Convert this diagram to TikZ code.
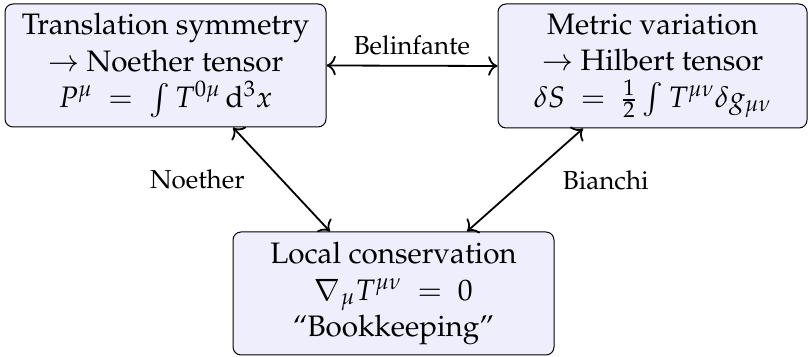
\documentclass[tikz,border=0pt]{standalone}
\usepackage[T1]{fontenc}
\usepackage{mathpazo}
\usetikzlibrary{arrows.meta}
\definecolor{boxfill}{RGB}{238,238,253}
\tikzset{
  concept/.style={draw=black, line width=0.5pt, fill=boxfill, rounded corners=4pt,
    align=center, font=\fontsize{14.8}{18.2}\selectfont, inner sep=2pt},
  link/.style={{To[scale=1.3]}-{To[scale=1.3]}, line width=0.9pt},
  lbl/.style={font=\fontsize{13}{15.6}\selectfont, inner sep=0pt}
}
\begin{document}
\begin{tikzpicture}[x=0.5pt, y=-0.5pt]
\useasboundingbox (0,0) rectangle (808,357);
\node[concept, minimum width=160.5pt, minimum height=61.5pt] (TL) at (165.5,65.5)
  {Translation symmetry\\ $\rightarrow$ Noether tensor\\ $P^{\mu}\ =\ \int T^{0\mu}\,\mathrm{d}^3x$};
\node[concept, minimum width=154.5pt, minimum height=62pt] (TR) at (652.5,66)
  {Metric variation\\ $\rightarrow$ Hilbert tensor\\ $\delta S\ =\ \frac{1}{2}\int T^{\mu\nu}\delta g_{\mu\nu}$};
\node[concept, minimum width=160.5pt, minimum height=61.5pt] (B) at (393.5,293.5)
  {Local conservation\\ $\nabla_{\mu}T^{\mu\nu}\ =\ 0$\\ ``Bookkeeping''};
\draw[link] (TL.east) -- node[lbl, above=5pt] (l1) {Belinfante} (TR.west);
\draw[link] ([xshift=33.75pt]TL.south) -- node[lbl, left=18pt] (l2) {Noether} ([xshift=-31.75pt]B.north);
\draw[link] ([xshift=-34.75pt]TR.south) -- node[lbl, right=18.5pt] (l3) {Bianchi} ([xshift=36.75pt]B.north);
\end{tikzpicture}
\end{document}
